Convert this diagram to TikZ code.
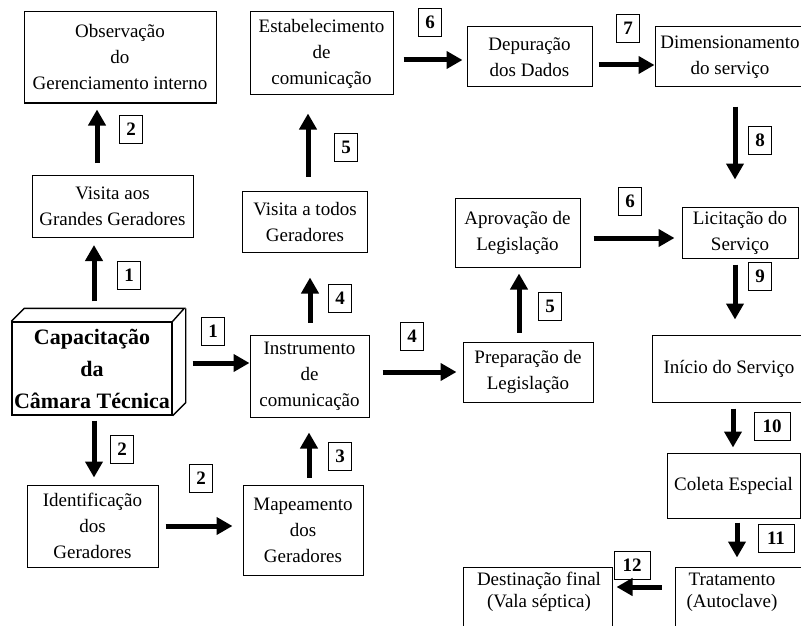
\documentclass[tikz,border=0pt]{standalone}
\usepackage{fontspec}
\setmainfont{Liberation Serif}
\usetikzlibrary{arrows.meta}
\begin{document}
\begin{tikzpicture}[x=1pt,y=-1pt,
  box/.style={draw, line width=1pt, inner sep=0pt, align=center,
              font=\fontsize{19}{26}\selectfont},
  txt/.style={inner sep=0pt, align=center, font=\fontsize{19}{22}\selectfont},
  num/.style={draw, line width=0.9pt, inner sep=0pt, minimum width=23pt,
              minimum height=28pt, font=\fontsize{19}{22}\selectfont\bfseries},
  numw/.style={num, minimum width=36pt},
  arr/.style={line width=5pt, -{Triangle[width=17pt,length=16pt]}},
]
\useasboundingbox (0,0) rectangle (801,626);
\fill[white] (0,0) rectangle (801,626);
\clip (0,0) rectangle (801,626);

% ---- boxes ----
\node[box, minimum width=192pt, minimum height=91pt] (obs) at (120,57.5)
  {Observação\\do\\Gerenciamento interno};
\node[box, minimum width=161pt, minimum height=62pt] (visA) at (112.5,206.5)
  {Visita aos\\Grandes Geradores};
\node[box, line width=1.4pt, minimum width=160pt, minimum height=93pt,
      font=\fontsize{22}{32}\selectfont\bfseries] (cube) at (92,368.5)
  {Capacitação\\da\\Câmara Técnica};
\draw[line width=1.4pt] (cube.north west) -- ++(13,-13) -- ++(160,0) -- (cube.north east);
\draw[line width=1.4pt] ([shift={(13,-13)}]cube.north east) -- ([shift={(13,-13)}]cube.south east) -- (cube.south east);
\node[box, minimum width=131pt, minimum height=82pt] (ident) at (92.5,526)
  {Identificação\\dos\\Geradores};
\node[box, minimum width=120pt, minimum height=90pt] (map) at (303,530)
  {Mapeamento\\dos\\Geradores};
\node[box, minimum width=119pt, minimum height=82pt] (instr) at (309.5,376)
  {Instrumento\\de\\comunicação};
\node[box, minimum width=125pt, minimum height=61pt] (visT) at (305,221.5)
  {Visita a todos\\Geradores};
\node[box, minimum width=143pt, minimum height=83pt] (estab) at (321.5,53.5)
  {Estabelecimento\\de\\comunicação};
\node[box, minimum width=125pt, minimum height=60pt] (dep) at (529.5,57)
  {Depuração\\dos Dados};
\node[box, minimum width=150pt, minimum height=60pt] (dim) at (730,57)
  {Dimensionamento\\do serviço};
\node[box, minimum width=125pt, minimum height=69pt] (aprov) at (517.5,232.5)
  {Aprovação de\\Legislação};
\node[box, minimum width=130pt, minimum height=60pt] (prep) at (528,372)
  {Preparação de\\Legislação};
\node[box, minimum width=116pt, minimum height=51pt] (licit) at (740,232.5)
  {Licitação do\\Serviço};
\node[box, minimum width=154pt, minimum height=67pt] (inicio) at (729,368.5)
  {Início do Serviço};
\node[box, minimum width=133pt, minimum height=65pt] (coleta) at (733.5,485.5)
  {Coleta Especial};
\node[box, minimum width=155pt, minimum height=93pt] (tratbox) at (752.5,613.5) {};
\node[txt] (trat) at (732,592) {Tratamento\\(Autoclave)};
\node[box, minimum width=149pt, minimum height=93pt] (destbox) at (537.5,613.5) {};
\node[txt] (dest) at (539,592) {Destinação final\\(Vala séptica)};

% ---- step numbers ----
\node[num] (n2a) at (131,129) {2};
\node[num] (n1a) at (129,275) {1};
\node[num] (n1b) at (213,331) {1};
\node[num] (n2b) at (122,449) {2};
\node[num] (n2c) at (201,478) {2};
\node[num] (n3)  at (340,456) {3};
\node[num] (n4a) at (340,298) {4};
\node[num] (n4b) at (412,336) {4};
\node[num] (n5a) at (346,147) {5};
\node[num] (n6a) at (430,22) {6};
\node[num] (n7)  at (628,28) {7};
\node[num] (n8)  at (760,140) {8};
\node[num] (n6b) at (630,201) {6};
\node[num] (n5b) at (550,306) {5};
\node[num] (n9)  at (760,276) {9};
\node[numw] (n10) at (772,426) {10};
\node[numw] (n11) at (776,538) {11};
\node[numw] (n12) at (632,565) {12};

% ---- connectors ----
\draw[arr, shorten <=12pt, shorten >=6pt] (97,0 |- visA.north) -- (97,0 |- obs.south);
\draw[arr, shorten <=20pt, shorten >=7pt] (94,0 |- cube.north) -- (94,0 |- visA.south);
\draw[arr, shorten <=20pt] (cube.east |- 0,363) -- (instr.west |- 0,363);
\draw[arr, shorten <=5pt, shorten >=7pt] (94,0 |- cube.south) -- (94,0 |- ident.north);
\draw[arr, shorten <=7pt, shorten >=10pt] (ident.east |- 0,526) -- (map.west |- 0,526);
\draw[arr, shorten <=7pt, shorten >=15pt] (309,0 |- map.north) -- (309,0 |- instr.south);
\draw[arr, shorten <=12pt, shorten >=25pt] (310,0 |- instr.north) -- (310,0 |- visT.south);
\draw[arr, shorten <=14pt, shorten >=18pt] (308,0 |- visT.north) -- (308,0 |- estab.south);
\draw[arr, shorten <=13pt, shorten >=6pt] (instr.east |- 0,372) -- (prep.west |- 0,372);
\draw[arr, shorten <=9pt, shorten >=6pt] (519,0 |- prep.north) -- (519,0 |- aprov.south);
\draw[arr, shorten <=10pt, shorten >=4pt] (estab.east |- 0,60) -- (dep.west |- 0,60);
\draw[arr, shorten <=6pt] (dep.east |- 0,65) -- (dim.west |- 0,65);
\draw[arr, shorten <=19pt, shorten >=27pt] (735,0 |- dim.south) -- (735,0 |- licit.north);
\draw[arr, shorten <=13pt, shorten >=7pt] (aprov.east |- 0,238) -- (licit.west |- 0,238);
\draw[arr, shorten <=6pt, shorten >=15pt] (735,0 |- licit.south) -- (735,0 |- inicio.north);
\draw[arr, shorten <=6pt, shorten >=5pt] (733,0 |- inicio.south) -- (733,0 |- coleta.north);
\draw[arr, shorten <=4pt, shorten >=9pt] (737,0 |- coleta.south) -- (737,0 |- tratbox.north);
\draw[arr, shorten <=13pt, shorten >=4pt] (tratbox.west |- 0,587) -- (destbox.east |- 0,587);
\end{tikzpicture}
\end{document}
